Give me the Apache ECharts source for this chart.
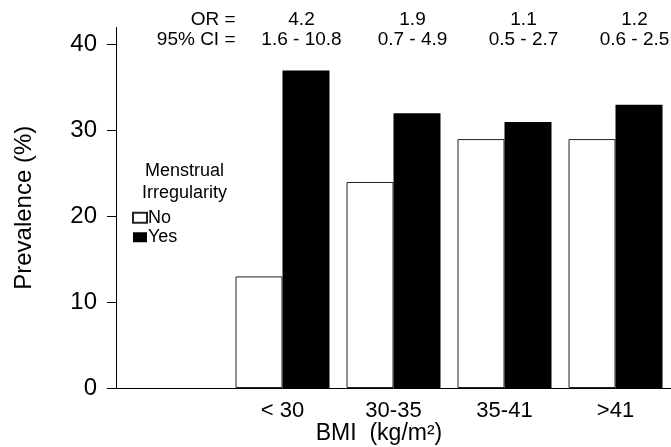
<!DOCTYPE html>
<html><head><meta charset="utf-8">
<script src="https://cdn.jsdelivr.net/npm/echarts@6/dist/echarts.min.js"></script>
<style>html,body{margin:0;padding:0;background:#fff}#c{width:671px;height:447px}</style>
</head><body><div id="c"></div>
<script>
const categories = ['', '< 30', '30-35', '35-41', '>41'];
const noValues = [null, 13, 24, 29, 29];
const yesValues = [null, 37, 32, 31, 33];
const orValues = ['OR =', '4.2', '1.9', '1.1', '1.2'];
const ciValues = ['95% CI =', '1.6 - 10.8', '0.7 - 4.9', '0.5 - 2.7', '0.6 - 2.5'];
const yTicks = [0, 10, 20, 30, 40];

const FONT = '"Liberation Sans", Arial, Helvetica, sans-serif';
const chart = echarts.init(document.getElementById('c'), null, {renderer: 'canvas'});
chart.setOption({
  animation: false,
  textStyle: {fontFamily: FONT, color: '#000'},
  grid: {left: 116, right: 0, top: 27.5, bottom: 59, containLabel: false},
  xAxis: {
    type: 'category', data: categories,
    axisTick: {show: false},
    axisLine: {lineStyle: {color: '#000', width: 1}},
    axisLabel: {fontSize: 22, color: '#000', margin: 12, fontFamily: FONT}
  },
  yAxis: {
    type: 'value', min: 0, max: 42, interval: 10,
    splitLine: {show: false},
    axisLine: {show: true, lineStyle: {color: '#000', width: 1}},
    axisTick: {show: true, length: 9, lineStyle: {color: '#000'}, customValues: yTicks},
    axisLabel: {fontSize: 24, color: '#000', margin: 19, fontFamily: FONT, customValues: yTicks},
    name: 'Prevalence (%)', nameLocation: 'middle', nameGap: 80,
    nameTextStyle: {fontSize: 24, color: '#000', fontFamily: FONT}
  },
  legend: {
    orient: 'vertical', left: 132, top: 208, padding: 0, itemGap: 0,
    itemWidth: 14, itemHeight: 10, icon: 'rect',
    textStyle: {fontSize: 18, lineHeight: 19.5, color: '#000', fontFamily: FONT, padding: [0, 0, 0, -4]},
    data: ['No', 'Yes']
  },
  series: [
    {name: 'No', type: 'bar', data: noValues, barWidth: 47, barGap: '0%',
     itemStyle: {color: '#fff', borderColor: '#222', borderWidth: 1}},
    {name: 'Yes', type: 'bar', data: yesValues, barWidth: 47, barGap: '0%',
     itemStyle: {color: '#000'}}
  ]
});

function txt(text, x, y, size, align) {
  return {type: 'text', x: x, y: y, silent: true,
    style: {text: text, fontSize: size, fontFamily: FONT, fill: '#000',
      textAlign: align, align: align, textVerticalAlign: 'middle', verticalAlign: 'middle'}};
}
const els = [];
categories.forEach(function (c, i) {
  const cx = chart.convertToPixel({xAxisIndex: 0}, i);
  if (i === 0) {
    els.push(txt(orValues[i], cx + 64, 20, 19, 'right'));
    els.push(txt(ciValues[i], cx + 64, 40, 19, 'right'));
  } else {
    els.push(txt(orValues[i], cx + 19, 20, 19, 'center'));
    els.push(txt(ciValues[i], cx + 19, 40, 19, 'center'));
  }
});
els.push(txt('BMI  (kg/m²)', 379, 434, 23, 'center'));
els.push(txt('Menstrual', 184.5, 171.5, 18, 'center'));
els.push(txt('Irregularity', 184.5, 193, 18, 'center'));
chart.setOption({graphic: {elements: els}});
</script>
</body></html>
